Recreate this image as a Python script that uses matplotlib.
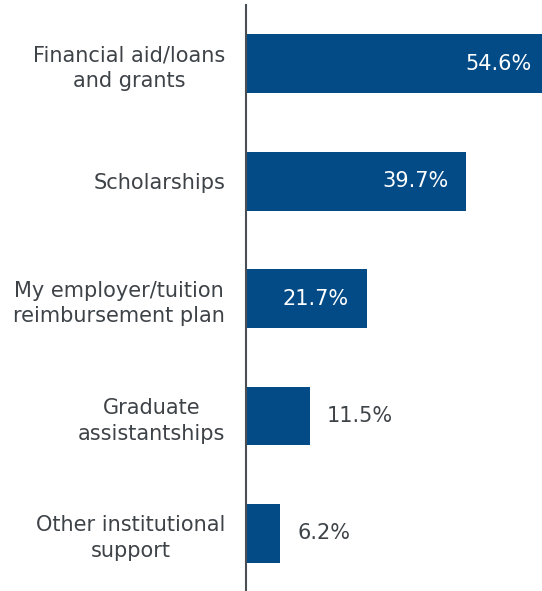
import numpy as np
import matplotlib.pyplot as plt

categories = ["Financial aid/loans\nand grants", "Scholarships",
              "My employer/tuition\nreimbursement plan", "Graduate\nassistantships",
              "Other institutional\nsupport"]
values = [54.6, 39.7, 21.7, 11.5, 6.2]
labels = ["54.6%", "39.7%", "21.7%", "11.5%", "6.2%"]

bar_color = "#024b87"
text_color = "#3e4348"

fig = plt.figure(figsize=(5.42, 5.91), dpi=100)
ax = fig.add_axes([246 / 542, 0, 296 / 542, 586 / 591])

y = np.arange(len(values))
ax.barh(y, values, height=0.5, color=bar_color)
ax.set_xlim(0, 53.3)
ax.set_ylim(4.49, -0.5)

for i, (v, lab) in enumerate(zip(values, labels)):
    if v > 15:
        ax.annotate(lab, (v, i), xytext=(-13, 0), textcoords="offset points",
                    ha="right", va="center", color="white", fontsize=15,
                    annotation_clip=False)
    else:
        ax.annotate(lab, (v, i), xytext=(12, 0), textcoords="offset points",
                    ha="left", va="center", color=text_color, fontsize=15)

ax.set_yticks(y)
ax.set_yticklabels(categories, fontsize=15, color=text_color, ha="right",
                   multialignment="center", linespacing=1.35)
ax.tick_params(axis="y", length=0, pad=15)
ax.set_xticks([])

for s in ["top", "right", "bottom"]:
    ax.spines[s].set_visible(False)
ax.spines["left"].set_color("#4a4f55")
ax.spines["left"].set_linewidth(1.5)

fig.savefig("out.png", dpi=100)
